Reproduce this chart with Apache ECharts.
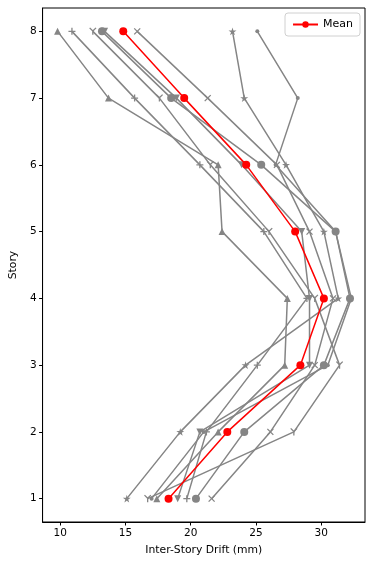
<!DOCTYPE html>
<html>
<head>
<meta charset="utf-8">
<script src="https://cdn.jsdelivr.net/npm/echarts@6/dist/echarts.min.js"></script>
<style>html,body{margin:0;padding:0;background:#fff}#c{width:388px;height:575px}</style>
</head>
<body>
<div id="c"></div>
<script>
// Stories (y values)
const stories = [1, 2, 3, 4, 5, 6, 7, 8];
// Individual records: drift (mm) at stories 1..8
const recTriangle = [17.4, 22.1, 27.2, 27.4, 22.4, 22.1, 13.7, 9.8];
const recCircle   = [20.4, 24.1, 30.2, 32.2, 31.1, 25.4, 18.5, 13.2];
const recDot      = [17.0, 21.0, 30.5, 32.3, 31.1, 26.5, 28.2, 25.1];
const recStar     = [15.1, 19.2, 24.2, 31.3, 30.2, 27.3, 24.1, 23.2];
const recCross    = [21.6, 26.1, 29.5, 30.9, 29.1, 26.6, 21.3, 15.9];
const recPlus     = [19.7, 21.2, 25.1, 28.9, 25.6, 20.7, 15.7, 10.9];
const recTri      = [16.7, 27.9, 31.4, 29.5, 26.0, 21.5, 17.6, 12.5];
const recDown     = [19.0, 20.7, 29.1, 29.1, 28.5, 23.9, 18.9, 13.4];
// Mean line
const meanDrift   = [18.3, 22.8, 28.4, 30.2, 28.0, 24.25, 19.5, 14.83];
// Tick labels
const xTicks = [10, 15, 20, 25, 30];
const yTicks = [1, 2, 3, 4, 5, 6, 7, 8];

const GRAY = '#858585';
const STAR = 'path://M50,0 L61,35 L98,35 L68,57 L79,91 L50,70 L21,91 L32,57 L2,35 L39,35 Z';
const CROSS = 'path://M0,0L10,10M10,0L0,10';
const PLUS = 'path://M5,0L5,10M0,5L10,5';
const TRI = 'path://M0,0L5,5M10,0L5,5M5,5L5,11';

const toPts = v => stories.map((s, i) => [v[i], s]);

const records = [
  {d: recTriangle, symbol: 'triangle', size: 7},
  {d: recCircle, symbol: 'circle', size: 8},
  {d: recDot, symbol: 'circle', size: 4},
  {d: recStar, symbol: STAR, size: 8},
  {d: recCross, symbol: CROSS, size: 6, stroke: true},
  {d: recPlus, symbol: PLUS, size: 7, stroke: true},
  {d: recTri, symbol: TRI, size: 7, stroke: true},
  {d: recDown, symbol: 'triangle', size: 7, rotate: 180}
];

const series = records.map(r => ({
  type: 'line',
  data: toPts(r.d),
  symbol: r.symbol,
  symbolSize: r.size,
  symbolRotate: r.rotate || 0,
  symbolKeepAspect: true,
  showSymbol: true,
  lineStyle: {color: GRAY, width: 1.5},
  itemStyle: {color: r.stroke ? 'none' : GRAY, borderColor: GRAY, borderWidth: r.stroke ? 1.3 : 0, opacity: 1},
  emphasis: {disabled: true},
  z: 2
}));

series.push({
  name: 'Mean',
  type: 'line',
  data: toPts(meanDrift),
  symbol: 'circle',
  symbolSize: 8,
  lineStyle: {color: '#ff0000', width: 1.5},
  itemStyle: {color: '#ff0000', borderWidth: 0},
  emphasis: {disabled: true},
  z: 5
});

const font = 'DejaVu Sans';
const chart = echarts.init(document.getElementById('c'), null, {renderer: 'canvas'});
chart.setOption({
  animation: false,
  backgroundColor: '#fff',
  grid: {left: 41, right: 23, top: 8, bottom: 53, show: true, borderColor: '#000', borderWidth: 1, backgroundColor: 'transparent'},
  legend: {
    data: ['Mean'], right: 28, top: 13,
    padding: [6, 7, 6, 7], itemWidth: 25, itemHeight: 8,
    borderColor: '#d0d0d0', borderWidth: 1, borderRadius: 3, backgroundColor: '#fff',
    textStyle: {fontFamily: font, fontSize: 11, color: '#000'}
  },
  xAxis: {
    type: 'value', min: 8.65, max: 33.35,
    name: 'Inter-Story Drift (mm)', nameLocation: 'middle', nameGap: 23,
    nameTextStyle: {fontFamily: font, fontSize: 10.8, color: '#000'},
    splitLine: {show: false},
    axisLine: {show: true, lineStyle: {color: '#000', width: 1}},
    axisTick: {show: true, inside: false, length: 3.5, lineStyle: {color: '#000'}, customValues: xTicks},
    axisLabel: {fontFamily: font, fontSize: 10.5, color: '#000', margin: 6, customValues: xTicks}
  },
  yAxis: {
    type: 'value', min: 0.65, max: 8.35,
    name: 'Story', nameLocation: 'middle', nameGap: 21, nameRotate: 90,
    nameTextStyle: {fontFamily: font, fontSize: 10.8, color: '#000'},
    splitLine: {show: false},
    axisLine: {show: true, lineStyle: {color: '#000', width: 1}},
    axisTick: {show: true, inside: false, length: 3.5, lineStyle: {color: '#000'}, customValues: yTicks},
    axisLabel: {fontFamily: font, fontSize: 10.5, color: '#000', margin: 6, customValues: yTicks}
  },
  series: series
});
</script>
</body>
</html>
